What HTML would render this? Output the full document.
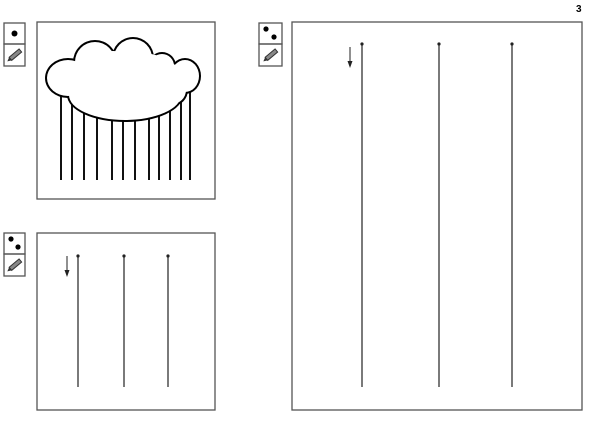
<!DOCTYPE html>
<html><head><style>body{margin:0;background:#fff;width:600px;height:425px;overflow:hidden}</style></head><body>
<svg width="600" height="425" xmlns="http://www.w3.org/2000/svg">
<defs>
<g id="pencil"><g transform="rotate(-40)"><rect x="-6" y="-2" width="13" height="4" fill="#888" stroke="#333" stroke-width="1"/><path d="M-6,-2 L-10,0 L-6,2 Z" fill="#333"/></g></g>
</defs>
<text x="576" y="12" font-family="Liberation Sans, sans-serif" font-size="10" font-weight="bold">3</text>
<g fill="none" stroke="#555" stroke-width="1.3">
<rect x="37" y="22" width="178" height="177"/>
<rect x="37" y="233" width="178" height="177"/>
<rect x="292" y="22" width="290" height="388"/>
<rect x="4" y="23" width="21" height="21"/><rect x="4" y="44" width="21" height="22"/>
<rect x="4" y="233" width="21" height="21"/><rect x="4" y="254" width="21" height="22"/>
<rect x="259" y="23" width="23" height="21"/><rect x="259" y="44" width="23" height="22"/>
</g>
<circle cx="14.5" cy="33.5" r="3" fill="#000"/>
<circle cx="11" cy="239" r="2.6" fill="#000"/><circle cx="18" cy="247" r="2.6" fill="#000"/>
<circle cx="266" cy="29" r="2.6" fill="#000"/><circle cx="274" cy="37" r="2.6" fill="#000"/>
<use href="#pencil" x="15" y="55"/><use href="#pencil" x="15" y="265"/><use href="#pencil" x="271" y="55"/>
<g stroke="#111" stroke-width="2">
<line x1="61" y1="95" x2="61" y2="180"/><line x1="72" y1="95" x2="72" y2="180"/><line x1="84" y1="95" x2="84" y2="180"/><line x1="97" y1="95" x2="97" y2="180"/><line x1="112" y1="95" x2="112" y2="180"/><line x1="123" y1="95" x2="123" y2="180"/><line x1="135" y1="95" x2="135" y2="180"/><line x1="149" y1="95" x2="149" y2="180"/><line x1="159" y1="95" x2="159" y2="180"/><line x1="170" y1="95" x2="170" y2="180"/><line x1="181" y1="95" x2="181" y2="180"/><line x1="190" y1="90" x2="190" y2="180"/>
</g>
<g fill="#000">
<ellipse cx="68" cy="78" rx="23" ry="20"/><circle cx="95" cy="62" r="22"/><circle cx="133" cy="58" r="21"/><circle cx="162" cy="66" r="14"/><ellipse cx="185" cy="76" rx="16" ry="18"/><ellipse cx="125" cy="95" rx="58" ry="27"/><circle cx="82" cy="93" r="14"/><circle cx="172" cy="90" r="16"/>
</g>
<g fill="#fff">
<ellipse cx="68" cy="78" rx="21" ry="18"/><circle cx="95" cy="62" r="20"/><circle cx="133" cy="58" r="19"/><circle cx="162" cy="66" r="12"/><ellipse cx="185" cy="76" rx="14" ry="16"/><ellipse cx="125" cy="95" rx="56" ry="25"/><circle cx="82" cy="93" r="12"/><circle cx="172" cy="90" r="14"/>
<ellipse cx="125" cy="75" rx="55" ry="24"/><ellipse cx="150" cy="72" rx="25" ry="14"/><ellipse cx="113" cy="65" rx="25" ry="14"/>
</g>
<g stroke="#222" stroke-width="1.2" fill="#222">
<line x1="78" y1="256" x2="78" y2="387"/><line x1="124" y1="256" x2="124" y2="387"/><line x1="168" y1="256" x2="168" y2="387"/>
<circle cx="78" cy="256" r="1"/><circle cx="124" cy="256" r="1"/><circle cx="168" cy="256" r="1"/>
<line x1="362" y1="44" x2="362" y2="387"/><line x1="439" y1="44" x2="439" y2="387"/><line x1="512" y1="44" x2="512" y2="387"/>
<circle cx="362" cy="44" r="1"/><circle cx="439" cy="44" r="1"/><circle cx="512" cy="44" r="1"/>
<line x1="67" y1="256" x2="67" y2="272" stroke-width="1"/>
<line x1="350" y1="47" x2="350" y2="63" stroke-width="1"/>
</g>
<path d="M64.5,270 L67,277 L69.5,270 Z" fill="#222"/>
<path d="M347.5,61 L350,68 L352.5,61 Z" fill="#222"/>
</svg>
</body></html>
